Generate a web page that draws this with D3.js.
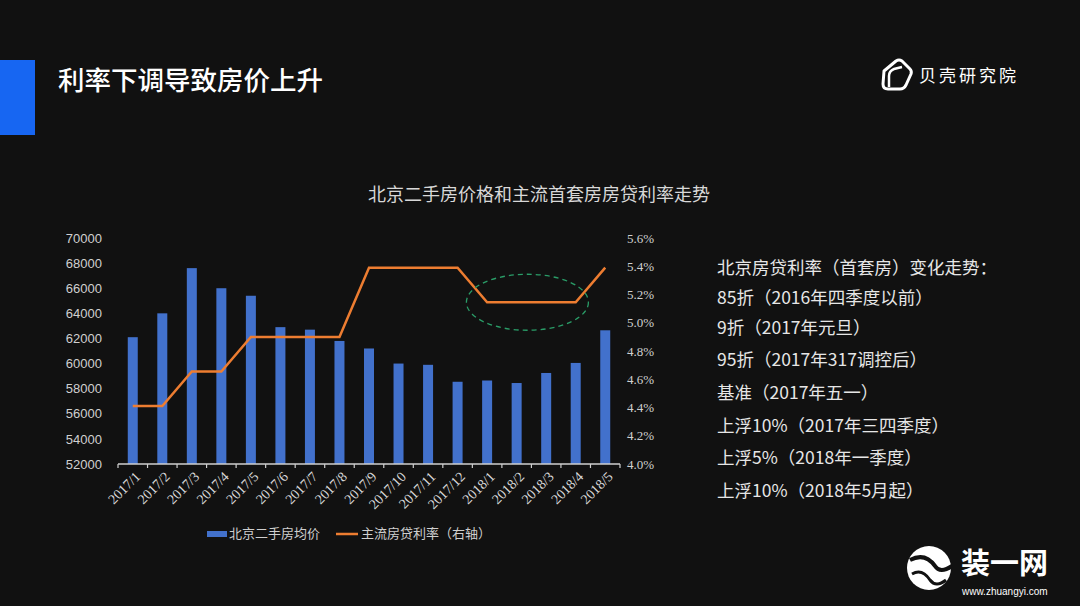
<!DOCTYPE html>
<html><head><meta charset="utf-8">
<script src="https://cdn.jsdelivr.net/npm/d3@7"></script>
<style>
html,body{margin:0;padding:0;background:#111111;}
svg{display:block;}
</style></head>
<body>
<svg id="c" width="1080" height="606"></svg>
<script>
const months = ["2017/1","2017/2","2017/3","2017/4","2017/5","2017/6","2017/7","2017/8","2017/9","2017/10","2017/11","2017/12","2018/1","2018/2","2018/3","2018/4","2018/5"];
const prices = [62100,64000,67600,66000,65400,62900,62700,61800,61200,60000,59900,58550,58650,58450,59250,60050,62650];
const rates = [4.41,4.41,4.655,4.655,4.9,4.9,4.9,4.9,5.39,5.39,5.39,5.39,5.145,5.145,5.145,5.145,5.39];
const leftTicks = [52000,54000,56000,58000,60000,62000,64000,66000,68000,70000];
const rightTicks = [4.0,4.2,4.4,4.6,4.8,5.0,5.2,5.4,5.6];
const notes = ["北京房贷利率（首套房）变化走势：","85折（2016年四季度以前）","9折（2017年元旦）","95折（2017年317调控后）","基准（2017年五一）","上浮10%（2017年三四季度）","上浮5%（2018年一季度）","上浮10%（2018年5月起）"];

const svg = d3.select("#c");
const CJK = "'Noto Sans CJK SC','Noto Sans',sans-serif";

// header
svg.append("rect").attr("x",0).attr("y",60).attr("width",35).attr("height",75).attr("fill","#1766f2");
svg.append("text").attr("x",58).attr("y",90).attr("fill","#ffffff").attr("font-family",CJK)
  .attr("font-size",26.5).attr("font-weight",500).text("利率下调导致房价上升");

// logo 贝壳研究院
const lg = svg.append("g").attr("transform","translate(880,57)");
lg.append("path").attr("d","M4,14 L16,4 Q19,2 22,4 L30,12 Q32,14 31,17 L26,28 Q24,32 20,32 L8,32 Q3,32 3,27 Z")
  .attr("fill","none").attr("stroke","#fff").attr("stroke-width",3).attr("stroke-linejoin","round");
lg.append("path").attr("d","M9,30 L9,19 Q9,14 14,12 L22,10").attr("fill","none").attr("stroke","#fff").attr("stroke-width",2.5);
svg.append("text").attr("x",919).attr("y",82).attr("fill","#ffffff").attr("font-family",CJK)
  .attr("font-size",17).attr("letter-spacing",3).text("贝壳研究院");

// chart title
svg.append("text").attr("x",539).attr("y",195).attr("dy","0.35em").attr("text-anchor","middle").attr("fill","#d8d8d8")
  .attr("font-family",CJK).attr("font-size",18).text("北京二手房价格和主流首套房房贷利率走势");

// scales
const x = d3.scaleBand().domain(months).range([118,620]).paddingInner(0).paddingOuter(0);
const yL = d3.scaleLinear().domain([52000,70000]).range([464,238]);
const yR = d3.scaleLinear().domain([4.0,5.6]).range([464,238]);
const bw = 10;

// bars
svg.append("g").selectAll("rect").data(months).join("rect")
  .attr("x",d=>x(d)+x.bandwidth()/2-bw/2).attr("width",bw)
  .attr("y",(d,i)=>yL(prices[i])).attr("height",(d,i)=>yL(52000)-yL(prices[i]))
  .attr("fill","#4271cc");

// x axis
const xAxis = svg.append("g").attr("transform","translate(0,464)");
xAxis.append("line").attr("x1",118).attr("x2",620).attr("y1",0).attr("y2",0).attr("stroke","#cfcfcf").attr("stroke-width",1.3);
xAxis.selectAll("line.tk").data(months.concat(["end"])).join("line").attr("class","tk")
  .attr("x1",(d,i)=>118+i*x.step()).attr("x2",(d,i)=>118+i*x.step()).attr("y1",0).attr("y2",4)
  .attr("stroke","#cfcfcf").attr("stroke-width",1.2);
xAxis.selectAll("text").data(months).join("text")
  .attr("transform",d=>`translate(${x(d)+x.bandwidth()/2+5},${10}) rotate(-45)`)
  .attr("text-anchor","end").attr("dy","0.35em").attr("fill","#d8d8d8")
  .attr("font-family","'Liberation Serif','Times New Roman',serif").attr("font-size",14).text(d=>d);

// left axis
const la = svg.append("g").attr("transform","translate(102,0)")
  .call(d3.axisLeft(yL).tickValues(leftTicks).tickSize(0).tickPadding(0).tickFormat(d3.format("d")));
la.select(".domain").remove();
la.selectAll("text").attr("fill","#d0d0d0").attr("font-family","'Liberation Sans',Arial,sans-serif").attr("font-size",13);

// right axis
const ra = svg.append("g").attr("transform","translate(627,0)")
  .call(d3.axisRight(yR).tickValues(rightTicks).tickSize(0).tickPadding(0).tickFormat(d=>d.toFixed(1)+"%"));
ra.select(".domain").remove();
ra.selectAll("text").attr("fill","#d0d0d0").attr("font-family","'Liberation Serif','Times New Roman',serif").attr("font-size",13);

// line
const line = d3.line().x((d,i)=>x(months[i])+x.bandwidth()/2).y(d=>yR(d));
svg.append("path").datum(rates).attr("d",line).attr("fill","none").attr("stroke","#ed7d31").attr("stroke-width",2.5);

// annotation ellipse
const cx = (x("2018/1")+x("2018/4")+x.bandwidth())/2 - 4;
svg.append("ellipse").attr("cx",cx).attr("cy",yR(5.145)).attr("rx",61).attr("ry",28)
  .attr("fill","none").attr("stroke","#2a9d68").attr("stroke-width",1.3).attr("stroke-dasharray","5,4");

// legend
const leg = svg.append("g");
leg.append("rect").attr("x",207).attr("y",531).attr("width",20).attr("height",6).attr("fill","#4271cc");
leg.append("text").attr("x",229).attr("y",538).attr("fill","#cfcfcf").attr("font-family",CJK).attr("font-size",13).text("北京二手房均价");
leg.append("line").attr("x1",336).attr("x2",358).attr("y1",534).attr("y2",534).attr("stroke","#ed7d31").attr("stroke-width",2.5);
leg.append("text").attr("x",361).attr("y",538).attr("fill","#cfcfcf").attr("font-family",CJK).attr("font-size",13).text("主流房贷利率（右轴）");

// notes
const noteY = [268,298,328,360,393,426,458,491];
svg.append("g").selectAll("text").data(notes).join("text")
  .attr("x",717).attr("y",(d,i)=>noteY[i]).attr("dy","0.35em").attr("fill","#e6e6e6")
  .attr("font-family",CJK).attr("font-size",17.5).text(d=>d);

// watermark
const wm = svg.append("g");
wm.append("circle").attr("cx",929).attr("cy",568).attr("r",22).attr("fill","#ffffff");
wm.append("path").attr("d","M910,560 Q925,552 935,566 Q940,574 952,566").attr("fill","none").attr("stroke","#111").attr("stroke-width",4);
wm.append("path").attr("d","M912,574 Q922,568 930,580 Q936,588 946,580").attr("fill","none").attr("stroke","#111").attr("stroke-width",3);
wm.append("text").attr("x",961).attr("y",574).attr("fill","#ffffff").attr("font-family",CJK).attr("font-weight",700)
  .attr("font-size",29).text("装一网");
wm.append("text").attr("x",962).attr("y",595).attr("fill","#ffffff").attr("font-family","'Liberation Sans',Arial,sans-serif")
  .attr("font-size",10).text("www.zhuangyi.com");
</script>
</body></html>
